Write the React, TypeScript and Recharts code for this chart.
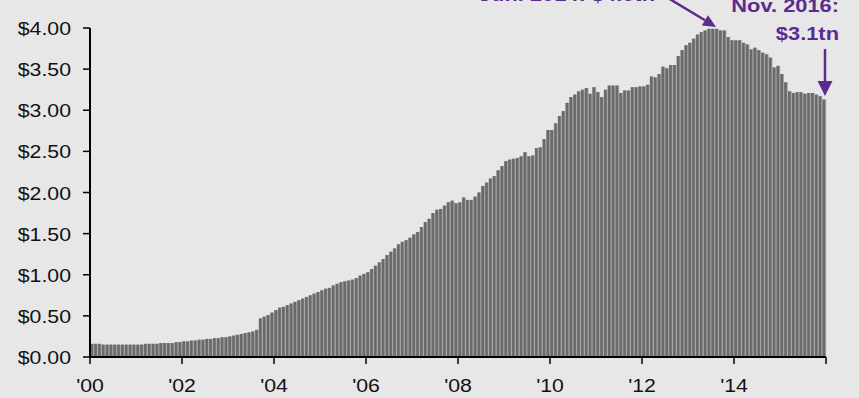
import { BarChart, Bar, XAxis, YAxis } from 'recharts';

// monthly values, $tn, one array per axis year
const y2000 = [0.16, 0.16, 0.16, 0.15, 0.15, 0.15, 0.15, 0.15, 0.15, 0.15, 0.15, 0.15];
const y2001 = [0.15, 0.15, 0.16, 0.16, 0.16, 0.16, 0.17, 0.17, 0.17, 0.17, 0.18, 0.18];
const y2002 = [0.19, 0.19, 0.2, 0.2, 0.21, 0.21, 0.22, 0.22, 0.23, 0.23, 0.24, 0.24];
const y2003 = [0.25, 0.26, 0.27, 0.28, 0.29, 0.3, 0.31, 0.33, 0.47, 0.49, 0.51, 0.54];
const y2004 = [0.57, 0.6, 0.61, 0.63, 0.65, 0.67, 0.69, 0.71, 0.73, 0.75, 0.77, 0.79];
const y2005 = [0.81, 0.83, 0.84, 0.87, 0.89, 0.91, 0.92, 0.93, 0.94, 0.96, 0.99, 1.01];
const y2006 = [1.03, 1.07, 1.11, 1.15, 1.19, 1.24, 1.28, 1.32, 1.37, 1.4, 1.42, 1.45];
const y2007 = [1.49, 1.52, 1.58, 1.64, 1.68, 1.75, 1.79, 1.8, 1.84, 1.88, 1.9, 1.87];
const y2008 = [1.88, 1.94, 1.91, 1.91, 1.95, 2.0, 2.08, 2.12, 2.17, 2.2, 2.27, 2.32];
const y2009 = [2.38, 2.4, 2.41, 2.42, 2.44, 2.49, 2.44, 2.45, 2.54, 2.55, 2.65, 2.76];
const y2010 = [2.76, 2.84, 2.93, 2.99, 3.09, 3.16, 3.19, 3.23, 3.25, 3.27, 3.2, 3.28];
const y2011 = [3.22, 3.16, 3.25, 3.3, 3.3, 3.3, 3.21, 3.24, 3.24, 3.28, 3.28, 3.29];
const y2012 = [3.29, 3.31, 3.41, 3.4, 3.44, 3.53, 3.51, 3.55, 3.55, 3.66, 3.73, 3.79];
const y2013 = [3.82, 3.87, 3.92, 3.95, 3.97, 3.99, 3.99, 3.99, 3.97, 3.97, 3.89, 3.85];
const y2014 = [3.85, 3.85, 3.82, 3.8, 3.74, 3.76, 3.73, 3.7, 3.68, 3.64, 3.52, 3.54];
const y2015 = [3.44, 3.34, 3.23, 3.21, 3.22, 3.22, 3.2, 3.21, 3.21, 3.19, 3.17, 3.13];

const years = [2000, 2001, 2002, 2003, 2004, 2005, 2006, 2007, 2008, 2009, 2010, 2011, 2012, 2013, 2014, 2015];
const yearValues = [y2000, y2001, y2002, y2003, y2004, y2005, y2006, y2007, y2008, y2009, y2010, y2011, y2012, y2013, y2014, y2015];

const xTickLabels = ["'00", "'02", "'04", "'06", "'08", "'10", "'12", "'14"];
const yTicks = [0, 0.5, 1, 1.5, 2, 2.5, 3, 3.5, 4];

const data = yearValues.flatMap((vals, yi) =>
  vals.map((v, m) => ({ month: `${years[yi]}-${String(m + 1).padStart(2, '0')}`, value: v }))
);

const labelTicks = xTickLabels.map((_, i) => data[i * 24].month);
const lastMonth = data[data.length - 1].month;

const PURPLE = '#5b2c8f';
const BG = '#e7e7e7';
const FONT = '"Liberation Sans", Arial, sans-serif';
const PLOT_LEFT = 90;
const PLOT_RIGHT = 826;
const AXIS_Y = 357;
const HALF_BAND = (PLOT_RIGHT - PLOT_LEFT) / data.length / 2;

const XTick = (props: any) => {
  const { x, payload } = props;
  const isEnd = payload.value === lastMonth;
  const tx = isEnd ? x + HALF_BAND : x - HALF_BAND;
  const idx = labelTicks.indexOf(payload.value);
  return (
    <g>
      <line x1={tx} x2={tx} y1={AXIS_Y} y2={AXIS_Y + 7} stroke="#000" strokeWidth={1.5} />
      {idx >= 0 && (
        <text
          transform={`translate(${tx},392) scale(1.12,1)`}
          textAnchor="middle"
          fontSize={19}
          fontFamily={FONT}
          fill="#111"
        >
          {xTickLabels[idx]}
        </text>
      )}
    </g>
  );
};

const YTick = (props: any) => {
  const { y, payload } = props;
  return (
    <g>
      <line x1={83} x2={PLOT_LEFT} y1={y} y2={y} stroke="#000" strokeWidth={1.5} />
      <text
        transform={`translate(71,${y + 7}) scale(1.12,1)`}
        textAnchor="end"
        fontSize={19}
        fontFamily={FONT}
        fill="#111"
      >
        {`$${payload.value.toFixed(2)}`}
      </text>
    </g>
  );
};

const StripedBar = (props: any) => {
  const { x, y, width, height } = props;
  if (!height || height <= 0) return null;
  return (
    <g>
      <rect x={x} y={y} width={width} height={height} fill="#a2a2a2" />
      <rect x={x + 0.4} y={y} width={width - 1.4} height={height} fill="#6a6a6a" />
    </g>
  );
};

const App = () => {
  return (
    <div style={{ position: 'absolute', left: 0, top: 0, width: 859, height: 398, background: BG }}>
      <BarChart
        width={859}
        height={398}
        data={data}
        margin={{ top: 28, right: 33, bottom: 0, left: 0 }}
        barCategoryGap={0}
      >
        <XAxis
          dataKey="month"
          height={41}
          ticks={[...labelTicks, lastMonth]}
          interval={0}
          tick={<XTick />}
          tickLine={false}
          axisLine={{ stroke: '#000', strokeWidth: 2 }}
        />
        <YAxis
          width={90}
          domain={[0, 4]}
          ticks={yTicks}
          interval={0}
          tick={<YTick />}
          tickLine={false}
          axisLine={{ stroke: '#000', strokeWidth: 2 }}
        />
        <Bar dataKey="value" shape={<StripedBar />} isAnimationActive={false} />
      </BarChart>
      <svg
        width={859}
        height={398}
        style={{ position: 'absolute', left: 0, top: 0, pointerEvents: 'none' }}
      >
        <g fontFamily={FONT} fontWeight="bold" fill={PURPLE} fontSize={19}>
          <text transform="translate(655,0.6) scale(1.15,1)" textAnchor="end">Jun. 2014: $4.0tn</text>
          <text transform="translate(839,12) scale(1.15,1)" textAnchor="end">Nov. 2016:</text>
          <text transform="translate(839,40) scale(1.15,1)" textAnchor="end">$3.1tn</text>
        </g>
        <line x1={668} y1={-2} x2={705} y2={20.3} stroke={PURPLE} strokeWidth={2.5} />
        <polygon points="716,27 701.8,25.4 708,15.2" fill={PURPLE} />
        <line x1={825} y1={49} x2={825} y2={82} stroke={PURPLE} strokeWidth={2.5} />
        <polygon points="825,96 817.5,81 832.5,81" fill={PURPLE} />
      </svg>
    </div>
  );
};

export default App;
